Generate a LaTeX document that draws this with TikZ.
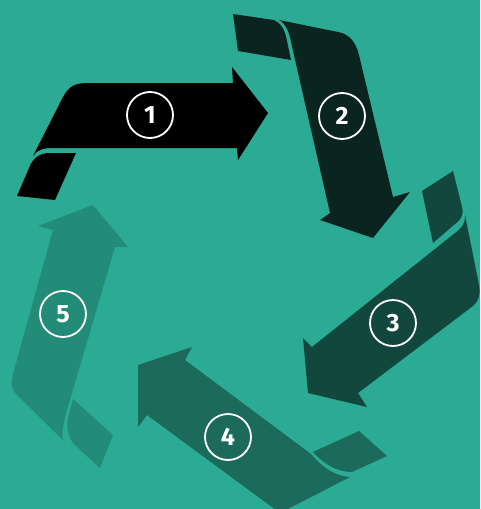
\documentclass[tikz,border=0pt]{standalone}
\usepackage{fontspec}
\setmainfont{Fira Sans}
\definecolor{bg}{HTML}{2BAB93}
\definecolor{c1}{HTML}{000000}
\definecolor{c2}{HTML}{0A241F}
\definecolor{c3}{HTML}{12473E}
\definecolor{c4}{HTML}{1B6A5B}
\definecolor{c5}{HTML}{238C78}
\tikzset{
  numc/.style={circle, draw=white, line width=1.8pt, minimum size=46pt, inner sep=0pt,
    text=white, font=\fontsize{25}{25}\selectfont\bfseries},
}
\begin{document}
\begin{tikzpicture}[x=1pt,y=-1pt]
\useasboundingbox (0,0) rectangle (480,509);
\fill[bg] (0,0) rectangle (480,509);
\clip (0,0) rectangle (480,509);
% arrow 1
\fill[c1] (33,156) -- (63,97) .. controls (69,86) and (75,83) .. (88,83) -- (233,83) -- (232,67) -- (268,113) -- (238,160) -- (237,148) -- (52,148) .. controls (43,148) and (37,150) .. (33,156) -- cycle;
\fill[c1] (76,153) -- (55,200) -- (17,196) -- (29,168) .. controls (33,158) and (39,153) .. (50,153) -- cycle;
% arrow 2
\fill[c2] (233,14) -- (274,20) .. controls (281,23) and (285,30) .. (287,41) -- (291,60) -- (238,51) -- cycle;
\fill[c2] (279,20) -- (338,32) .. controls (350,34) and (356,43) .. (359,55) -- (393,197) -- (410,192) -- (373,238) -- (320,220) -- (330,213) -- (291,42) .. controls (289,31) and (285,23) .. (279,20) -- cycle;
% arrow 3
\fill[c3] (422,191) -- (453,171) -- (462,207) .. controls (464,215) and (461,220) .. (455,224) -- (433,243) -- cycle;
\fill[c3] (465,215) -- (479,285) .. controls (481,296) and (478,303) .. (469,309) -- (358,393) -- (367,407) -- (308,393) -- (303,338) -- (312,347) -- (455,233) .. controls (462,228) and (466,222) .. (465,215) -- cycle;
% arrow 4
\fill[c4] (185,360) -- (311,454) .. controls (323,468) and (335,476) .. (350,477) -- (280,513) -- (147,415) -- (138,427) -- (138,365) -- (192,347) -- cycle;
\fill[c4] (313,452) -- (359,431) -- (387,456) -- (352,472) .. controls (337,472) and (324,464) .. (313,452) -- cycle;
% arrow 5
\fill[c5] (53,230) -- (13,374) .. controls (10,385) and (12,391) .. (20,398) -- (63,440) .. controls (61,428) and (66,413) .. (70,400) -- (115,247) -- (128,247) -- (93,205) -- (38,226) -- cycle;
\fill[c5] (73,399) -- (113,435) -- (100,468) -- (76,446) .. controls (69,440) and (66,430) .. (68,418) -- cycle;
% numbers
\node[numc] (n1) at (150,115) {1};
\node[numc] (n2) at (342,116) {2};
\node[numc] (n3) at (393,323) {3};
\node[numc] (n4) at (228,437) {4};
\node[numc] (n5) at (63,314) {5};
\end{tikzpicture}
\end{document}
